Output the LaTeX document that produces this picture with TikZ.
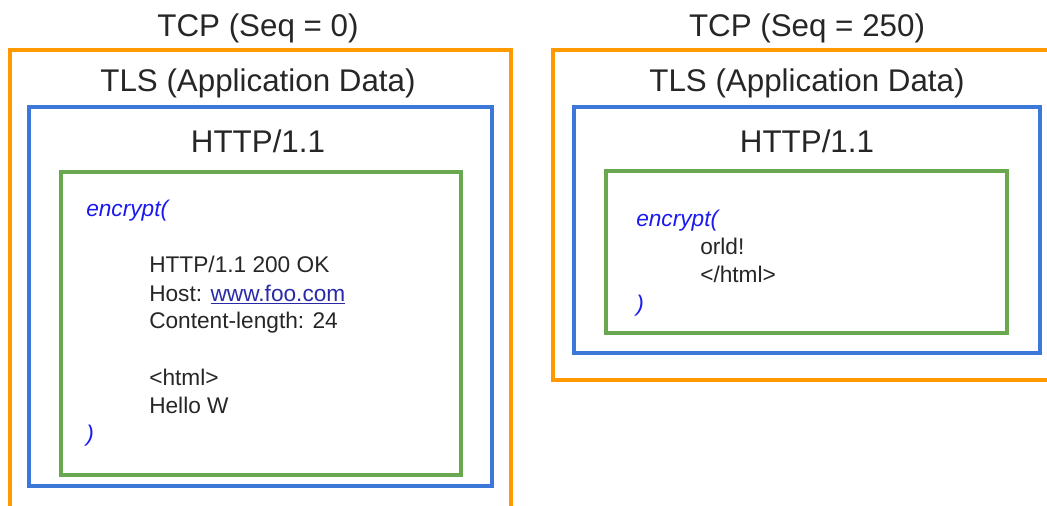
\documentclass[tikz,border=0pt]{standalone}
\usepackage{fontspec}
\setmainfont{Liberation Sans}
\definecolor{tcporange}{HTML}{FF9900}
\definecolor{tlsblue}{HTML}{3C78D8}
\definecolor{httpgreen}{HTML}{6AA84F}
\definecolor{fnblue}{HTML}{1A1AF0}
\definecolor{linkblue}{HTML}{2A2AA8}
\begin{document}
\begin{tikzpicture}[x=0.75pt,y=-0.75pt,
  layer/.style={draw=#1, line width=3pt, inner sep=0pt, outer sep=0pt, anchor=north west},
  title/.style={font=\fontsize{23.5}{28}\selectfont, anchor=base, inner sep=0pt, text=black!85},
  body/.style={font=\fontsize{17}{21}\selectfont, anchor=base west, inner sep=0pt, text=black!85},
  fn/.style={font=\fontsize{17}{21}\selectfont\itshape, anchor=base west, inner sep=0pt, text=fnblue}]
\useasboundingbox (0,0) rectangle (1047,506);
\clip (0,0) rectangle (1047,506);

% ---- first segment ----
\node[layer=tcporange, minimum width=501*0.75pt, minimum height=470*0.75pt] (tcpA) at (10,50) {};
\node[layer=tlsblue, minimum width=463*0.75pt, minimum height=379*0.75pt] (tlsA) at (29,107) {};
\node[layer=httpgreen, minimum width=400*0.75pt, minimum height=303*0.75pt] (httpA) at (61,172) {};
\node[title] (tcpAt) at (258,37) {TCP (Seq = 0)};
\node[title] (tlsAt) at (258,92) {TLS (Application Data)};
\node[title] (httpAt) at (258,153) {HTTP/1.1};
\node[fn] (encA) at (86,217) {encrypt(};
\node[body] (lA1) at (149,273) {HTTP/1.1 200 OK};
\node[body] (lA2) at (149,301) {Host: \textcolor{linkblue}{\underline{www.foo.com}}};
\node[body] (lA3) at (149,329) {Content-length: 24};
\node[body] (lA4) at (149,385) {<html>};
\node[body] (lA5) at (149,413) {Hello W};
\node[fn] (closeA) at (86,441) {)};

% ---- second segment ----
\node[layer=tcporange, minimum width=507*0.75pt, minimum height=330*0.75pt] (tcpB) at (553,50) {};
\node[layer=tlsblue, minimum width=466*0.75pt, minimum height=246*0.75pt] (tlsB) at (574,107) {};
\node[layer=httpgreen, minimum width=401*0.75pt, minimum height=162*0.75pt] (httpB) at (606,171) {};
\node[title] (tcpBt) at (807,37) {TCP (Seq = 250)};
\node[title] (tlsBt) at (807,92) {TLS (Application Data)};
\node[title] (httpBt) at (807,153) {HTTP/1.1};
\node[fn] (encB) at (636,227) {encrypt(};
\node[body] (lB1) at (700,255) {orld!};
\node[body] (lB2) at (700,283) {</html>};
\node[fn] (closeB) at (636,311) {)};
\end{tikzpicture}
\end{document}
